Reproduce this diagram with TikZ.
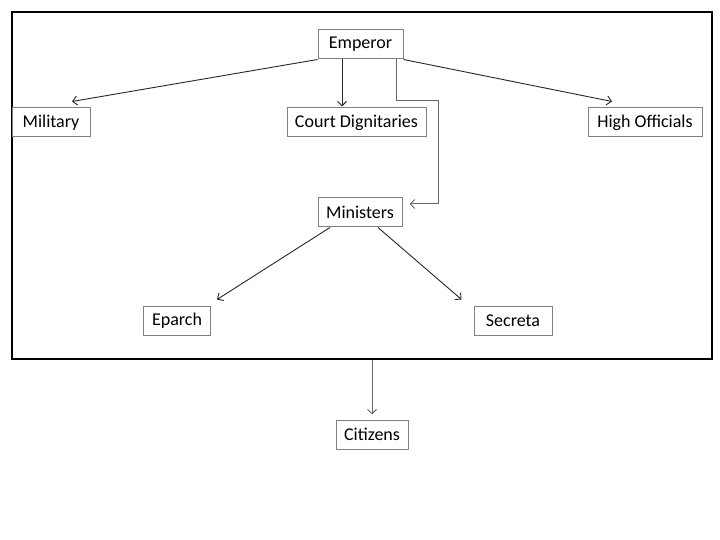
\documentclass[tikz,border=0pt]{standalone}
\usepackage{fontspec}
\setmainfont{Carlito}
\usetikzlibrary{arrows.meta,calc}
\begin{document}
\begin{tikzpicture}[x=1pt,y=-1pt,
  box/.style={draw=gray,line width=1pt,inner sep=0pt,font=\fontsize{18}{21}\selectfont,text=black},
  frame/.style={draw=black,line width=2pt,inner sep=0pt},
  arr/.style={draw=black!85,line width=0.9pt,-{Straight Barb[length=4.5pt,width=9pt]}},
  garr/.style={draw=gray!80!black,line width=1pt,-{Straight Barb[length=4.5pt,width=9pt]}}]
\useasboundingbox (0,0) rectangle (720,540);
\node[frame,minimum width=700,minimum height=347] (frame) at (362,185.5) {};
\node[box,minimum width=85,minimum height=29] (emp) at (360.5,44.5) {Emperor};
\node[box,minimum width=78,minimum height=29] (mil) at (51,122.5) {Military\hspace{6pt}};
\node[box,minimum width=139,minimum height=29] (court) at (356.5,122.5) {Court Dignitaries};
\node[box,minimum width=114,minimum height=29] (high) at (645,122.5) {High Officials};
\node[box,minimum width=84,minimum height=29] (min) at (360,212.5) {Ministers};
\node[box,minimum width=67,minimum height=29] (ep) at (177,320.5) {Eparch};
\node[box,minimum width=78,minimum height=29] (sec) at (513,320.5) {Secreta\hspace{8pt}};
\node[box,minimum width=72,minimum height=29] (cit) at (372,434.5) {Citizens};
\coordinate (cx) at (342,0);
\draw[arr] (emp.south west) -- ($(mil.north)+(21,-6)$);
\draw[arr] (emp.south -| cx) -- ($(court.north -| cx)+(0,-1)$);
\draw[arr] (emp.south east) -- ($(high.north)+(-33,-6)$);
\draw[garr] ($(emp.south)+(35.5,0)$) |- (438,101) |- ($(min.east)+(7,-8.5)$);
\draw[arr] ($(min.south)+(-30,0)$) -- ($(ep.north east)+(6,-6)$);
\draw[arr] ($(min.south)+(18,0)$) -- ($(sec.north west)+(-12,-6)$);
\draw[garr] (frame.south -| cit.north) -- ($(cit.north)+(0,-5)$);
\end{tikzpicture}
\end{document}
